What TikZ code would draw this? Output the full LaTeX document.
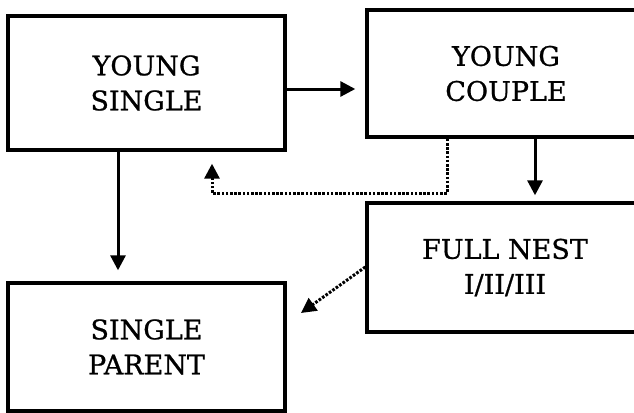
\documentclass[tikz,border=0pt]{standalone}
\usepackage{fontspec}
\setmainfont{DejaVu Serif}
\newfontfamily\stagefont{DejaVu Serif}[FakeBold=0.8]
\usepackage{tikz}
\usetikzlibrary{arrows.meta}

\tikzset{
  stage/.style={draw,line width=3.4pt,minimum width=#1,align=center,inner sep=0pt,
                font=\stagefont\fontsize{27}{35}\selectfont},
  flow/.style={line width=3pt,-{Triangle[length=15pt,width=15pt]}},
  backflow/.style={flow,dash pattern=on 2.6pt off 1.6pt}
}

\begin{document}
\begin{tikzpicture}[x=1pt,y=-1pt]
            \useasboundingbox (0,0) rectangle (634,412);
            \clip (0,0) rectangle (634,412);
            \fill [white] (0,0) rectangle (634,412);
          \node [stage=277pt,minimum height=134pt] (single) at (146.5,83) {YOUNG\\SINGLE};
          \node [stage=278pt,minimum height=127pt] (couple) at (506,73.5) {YOUNG\\COUPLE};
          \node [stage=276pt,minimum height=129pt] (nest) at (505,267.5) {FULL NEST\\I/II/III};
          \node [stage=277pt,minimum height=128pt] (parent) at (146.5,347) {SINGLE\\PARENT};
          \coordinate (turn) at (212,193);
          \coordinate (toparent) at (301,313);
            \draw [flow,shorten >=10pt] (single.east |- 0,89) -- (couple.west |- 0,89);
            \draw [flow,shorten >=11pt] (single.south -| 118,0) -- (parent.north -| 118,0);
            \draw [flow,shorten >=6pt] (couple.south -| 535,0) -- (nest.north -| 535,0);
            \draw [backflow,shorten >=12pt] (couple.south -| 447,0) |- (turn) -- (single.south -| turn);
            \draw [backflow] (nest.west |- 0,267) -- (toparent);
        \end{tikzpicture}
\end{document}
